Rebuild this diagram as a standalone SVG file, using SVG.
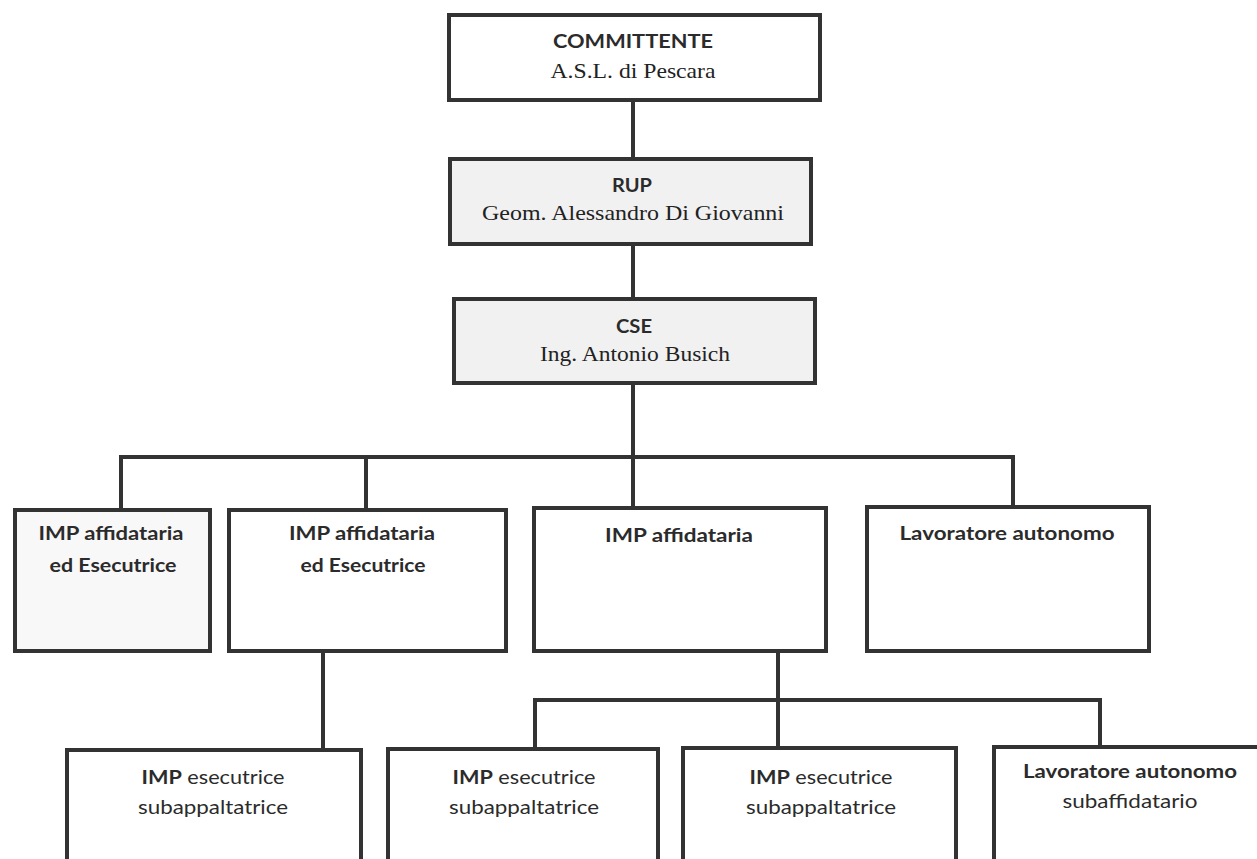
<svg xmlns="http://www.w3.org/2000/svg" width="1257" height="859" viewBox="0 0 1257 859">
<style>
.box{fill:#fff;stroke:#333;stroke-width:4}
.gray{fill:#f1f1f1}
.lite{fill:#f8f8f8}
.con{fill:none;stroke:#333;stroke-width:4;stroke-linejoin:miter}
.sb{font-family:Lato,"Liberation Sans",sans-serif;font-weight:bold;font-size:19px;fill:#2b2b2b;text-anchor:middle}
.sr{font-family:Lato,"Liberation Sans",sans-serif;font-size:19px;fill:#2b2b2b;text-anchor:middle}
.tb{font-weight:bold}
.tr{font-weight:normal}
.ser{font-family:"Liberation Serif","Times New Roman",serif;font-size:22px;fill:#222;text-anchor:middle}
</style>
<rect width="1257" height="859" fill="#fff"/>
<g id="connectors">
<path class="con" d="M633 100V159M633 244V299M633 383V508"/>
<path class="con" d="M121 510V457H1013V507M366 457V510"/>
<path class="con" d="M323 651V750"/>
<path class="con" d="M778 651V748"/>
<path class="con" d="M535 749V700H1100V747"/>
</g>
<g id="committente">
<rect class="box" x="449" y="15" width="371" height="85"/>
<text class="sb" x="633" y="48" textLength="160" lengthAdjust="spacingAndGlyphs">COMMITTENTE</text>
<text class="ser" x="633" y="78" textLength="165" lengthAdjust="spacingAndGlyphs">A.S.L. di Pescara</text>
</g>
<g id="rup">
<rect class="box gray" x="450" y="159" width="361" height="85"/>
<text class="sb" x="632" y="192" textLength="40" lengthAdjust="spacingAndGlyphs">RUP</text>
<text class="ser" x="633" y="220" textLength="302" lengthAdjust="spacingAndGlyphs">Geom. Alessandro Di Giovanni</text>
</g>
<g id="cse">
<rect class="box gray" x="454" y="299" width="361" height="84"/>
<text class="sb" x="634" y="333" textLength="36" lengthAdjust="spacingAndGlyphs">CSE</text>
<text class="ser" x="635" y="361" textLength="190" lengthAdjust="spacingAndGlyphs">Ing. Antonio Busich</text>
</g>
<g id="imp1">
<rect class="box lite" x="15" y="510" width="195" height="141"/>
<text class="sb" x="111" y="540" textLength="145" lengthAdjust="spacingAndGlyphs">IMP affidataria</text>
<text class="sb" x="113" y="572" textLength="127" lengthAdjust="spacingAndGlyphs">ed Esecutrice</text>
</g>
<g id="imp2">
<rect class="box" x="229" y="510" width="277" height="141"/>
<text class="sb" x="362" y="540" textLength="146" lengthAdjust="spacingAndGlyphs">IMP affidataria</text>
<text class="sb" x="363" y="572" textLength="125" lengthAdjust="spacingAndGlyphs">ed Esecutrice</text>
</g>
<g id="imp3">
<rect class="box" x="534" y="508" width="292" height="143"/>
<text class="sb" x="679" y="542" textLength="148" lengthAdjust="spacingAndGlyphs">IMP affidataria</text>
</g>
<g id="lav1">
<rect class="box" x="867" y="507" width="282" height="144"/>
<text class="sb" x="1007" y="540" textLength="215" lengthAdjust="spacingAndGlyphs">Lavoratore autonomo</text>
</g>
<g id="sub1">
<rect class="box" x="67" y="750" width="294" height="130"/>
<text class="sr" x="213" y="784" textLength="143" lengthAdjust="spacingAndGlyphs"><tspan class="tb">IMP</tspan> esecutrice</text>
<text class="sr" x="213" y="814" textLength="150" lengthAdjust="spacingAndGlyphs">subappaltatrice</text>
</g>
<g id="sub2">
<rect class="box" x="388" y="749" width="270" height="130"/>
<text class="sr" x="524" y="784" textLength="143" lengthAdjust="spacingAndGlyphs"><tspan class="tb">IMP</tspan> esecutrice</text>
<text class="sr" x="524" y="814" textLength="150" lengthAdjust="spacingAndGlyphs">subappaltatrice</text>
</g>
<g id="sub3">
<rect class="box" x="683" y="748" width="273" height="130"/>
<text class="sr" x="821" y="784" textLength="143" lengthAdjust="spacingAndGlyphs"><tspan class="tb">IMP</tspan> esecutrice</text>
<text class="sr" x="821" y="814" textLength="150" lengthAdjust="spacingAndGlyphs">subappaltatrice</text>
</g>
<g id="lav2">
<rect class="box" x="994" y="747" width="290" height="130"/>
<text class="sb" x="1130" y="778" textLength="214" lengthAdjust="spacingAndGlyphs">Lavoratore autonomo</text>
<text class="sr" x="1130" y="808" textLength="135" lengthAdjust="spacingAndGlyphs">subaffidatario</text>
</g>
</svg>
